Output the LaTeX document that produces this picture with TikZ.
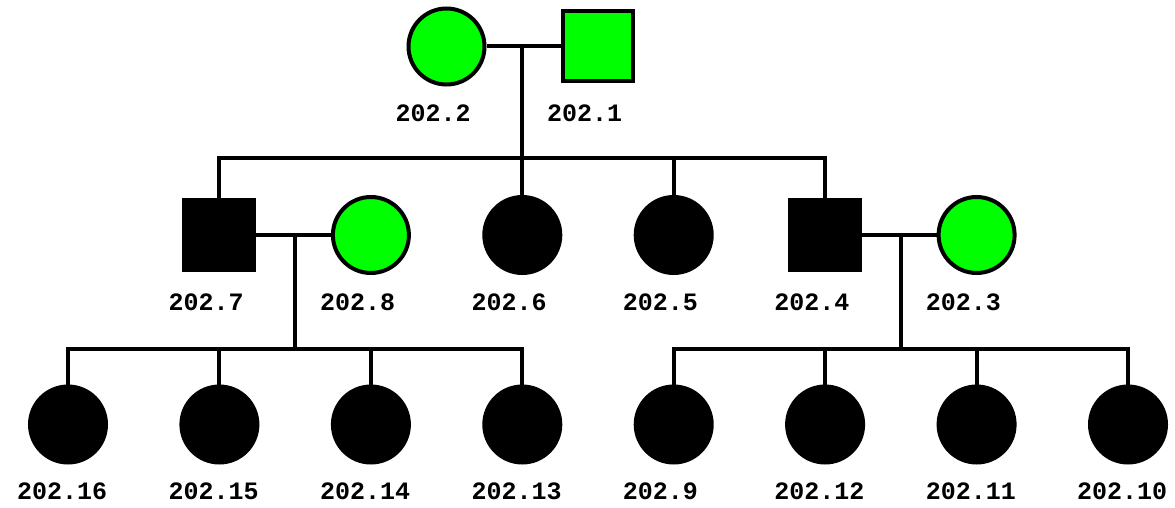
\documentclass[tikz,border=0pt]{standalone}
\usepackage{fontspec}
\setmonofont{Liberation Mono}
\definecolor{pgreen}{RGB}{0,255,0}
\tikzset{
  line/.style={line width=4pt, draw=black},
  fem/.style={circle, line width=4pt, draw=black, minimum size=76pt, inner sep=0pt},
  mal/.style={rectangle, line width=4pt, draw=black, minimum size=70pt, inner sep=0pt},
  aff/.style={fill=black},
  unaff/.style={fill=pgreen},
  lab/.style={anchor=base west, inner sep=0pt, font=\ttfamily\bfseries\fontsize{25}{25}\selectfont}
}
\begin{document}
\begin{tikzpicture}[x=1pt, y=-1pt]
\useasboundingbox (0,0) rectangle (1175,508);
% generation 1
\node[fem, unaff] (p2) at (446.5,46.5) {};
\node[mal, unaff] (p1) at (598,46.5) {};
% generation 2
\node[mal, aff] (p7) at (219.4,235) {};
\node[fem, unaff] (p8) at (370.9,235) {};
\node[fem, aff] (p6) at (522.3,235) {};
\node[fem, aff] (p5) at (673.7,235) {};
\node[mal, aff] (p4) at (825.1,235) {};
\node[fem, unaff] (p3) at (976.6,235) {};
% generation 3
\node[fem, aff] (p16) at (68,424.5) {};
\node[fem, aff] (p15) at (219.4,424.5) {};
\node[fem, aff] (p14) at (370.9,424.5) {};
\node[fem, aff] (p13) at (522.3,424.5) {};
\node[fem, aff] (p9) at (673.7,424.5) {};
\node[fem, aff] (p12) at (825.1,424.5) {};
\node[fem, aff] (p11) at (976.6,424.5) {};
\node[fem, aff] (p10) at (1128,424.5) {};
% labels
\foreach \n/\t in {p2/202.2, p1/202.1, p7/202.7, p8/202.8, p6/202.6, p5/202.5, p4/202.4, p3/202.3,
  p16/202.16, p15/202.15, p14/202.14, p13/202.13, p9/202.9, p12/202.12, p11/202.11, p10/202.10}
  \node[lab] (l\n) at ([xshift=-51pt, yshift=-75pt]\n.center) {\t};
% marriage 1
\coordinate (m1) at (522.3,46.5);
\coordinate (s1) at (522.3,158);
\draw[line] (p2) -- (p1);
\draw[line] (m1) -- (s1);
\draw[line] (p7) -- (p7 |- s1) -- (p4 |- s1) -- (p4);
\draw[line] (p6) -- (p6 |- s1);
\draw[line] (p5) -- (p5 |- s1);
% marriage 2
\coordinate (m2) at (295,235);
\coordinate (s2) at (295,349);
\draw[line] (p7) -- (p8);
\draw[line] (m2) -- (s2);
\draw[line] (p16) -- (p16 |- s2) -- (p13 |- s2) -- (p13);
\draw[line] (p15) -- (p15 |- s2);
\draw[line] (p14) -- (p14 |- s2);
% marriage 3
\coordinate (m3) at (900.8,235);
\coordinate (s3) at (900.8,349);
\draw[line] (p4) -- (p3);
\draw[line] (m3) -- (s3);
\draw[line] (p9) -- (p9 |- s3) -- (p10 |- s3) -- (p10);
\draw[line] (p12) -- (p12 |- s3);
\draw[line] (p11) -- (p11 |- s3);
\end{tikzpicture}
\end{document}
